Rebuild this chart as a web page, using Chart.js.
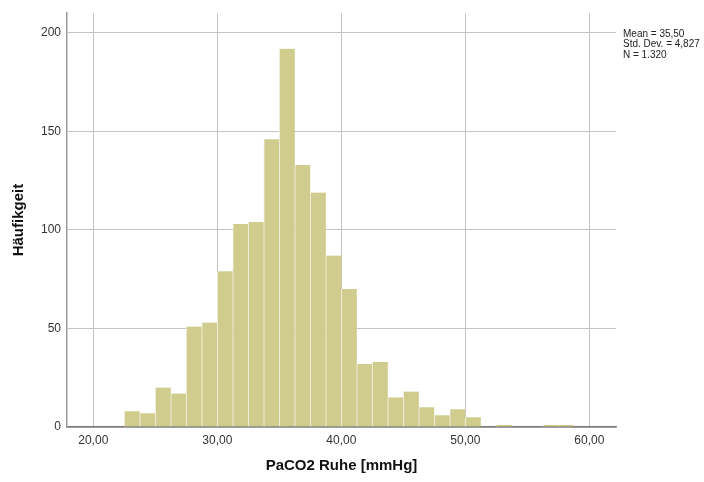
<!DOCTYPE html>
<html>
<head>
<meta charset="utf-8">
<script src="https://cdn.jsdelivr.net/npm/chart.js@4/dist/chart.umd.min.js"></script>
<style>
  html, body { margin: 0; padding: 0; background: #ffffff; }
  #wrap { width: 704px; height: 482px; }
</style>
</head>
<body>
<div id="wrap"><canvas id="histChart" width="704" height="482"></canvas></div>
<script>
// Histogram bins (lower edge, width 1.25 mmHg) and their counts
const binStart = 22.5;
const binWidth = 1.25;
const counts = [8, 7, 20, 17, 51, 53, 79, 103, 104, 146, 192, 133, 119, 87, 70,
                32, 33, 15, 18, 10, 6, 9, 5, 0, 1, 0, 0, 1, 1];
const xTicks = [20, 30, 40, 50, 60];
const yTicks = [0, 50, 100, 150, 200];
const statLines = ['Mean = 35,50', 'Std. Dev. = 4,827', 'N = 1.320'];

// bar at the middle of each bin; empty bins are left out
const points = counts
    .map((c, i) => ({ x: binStart + binWidth * (i + 0.5), y: c }))
    .filter(p => p.y > 0);

const fmtDe = v => v.toFixed(2).replace('.', ',');

// summary text to the right of the plot
const statsBox = {
    id: 'statsBox',
    afterDraw(chart) {
        const ctx = chart.ctx;
        ctx.save();
        ctx.font = '10px "Liberation Sans", Arial, sans-serif';
        ctx.fillStyle = '#222222';
        ctx.textBaseline = 'middle';
        statLines.forEach((t, i) => ctx.fillText(t, 623, 34 + i * 10.5));
        ctx.restore();
    }
};

const ctx = document.getElementById('histChart').getContext('2d');
const histChart = new Chart(ctx, {
    type: 'bar',
    data: {
        datasets: [{
            data: points,
            backgroundColor: '#d0cc8e',
            borderColor: '#eeedd9',
            borderWidth: { left: 1, right: 0, top: 0, bottom: 0 },
            borderSkipped: false,
            barPercentage: 1,
            categoryPercentage: 1,
            grouped: false
        }]
    },
    options: {
        responsive: false,
        animation: false,
        layout: { padding: { top: 10, right: 88, left: 0, bottom: 0 } },
        scales: {
            x: {
                type: 'linear',
                offset: false,
                min: 17.88,
                max: 62.15,
                afterFit(scale) { scale.height = 55; },
                afterBuildTicks(scale) { scale.ticks = xTicks.map(v => ({ value: v })); },
                ticks: {
                    callback: v => fmtDe(v),
                    color: '#333333',
                    padding: 6,
                    maxRotation: 0,
                    font: { family: '"Liberation Sans", Arial, sans-serif', size: 12 }
                },
                grid: { color: '#c4c4c4', lineWidth: 1, drawTicks: false, offset: false },
                border: { color: '#7a7a7a', width: 1.5 },
                title: {
                    display: true,
                    text: 'PaCO2 Ruhe [mmHg]',
                    color: '#111111',
                    padding: { top: 0, bottom: 7 },
                    font: { family: '"Liberation Sans", Arial, sans-serif', size: 15, weight: 'bold' }
                }
            },
            y: {
                min: 0,
                max: 210,
                afterFit(scale) { scale.width = 67; },
                afterBuildTicks(scale) { scale.ticks = yTicks.map(v => ({ value: v })); },
                ticks: {
                    color: '#333333',
                    padding: 6,
                    font: { family: '"Liberation Sans", Arial, sans-serif', size: 12 }
                },
                grid: { color: '#c4c4c4', lineWidth: 1, drawTicks: false },
                border: { color: '#9a9a9a', width: 1.5 },
                title: {
                    display: true,
                    text: 'Häufikgeit',
                    color: '#111111',
                    padding: { top: 10, bottom: 0 },
                    font: { family: '"Liberation Sans", Arial, sans-serif', size: 15, weight: 'bold' }
                }
            }
        },
        plugins: {
            legend: { display: false },
            tooltip: { enabled: false }
        }
    },
    plugins: [statsBox]
});
</script>
</body>
</html>
